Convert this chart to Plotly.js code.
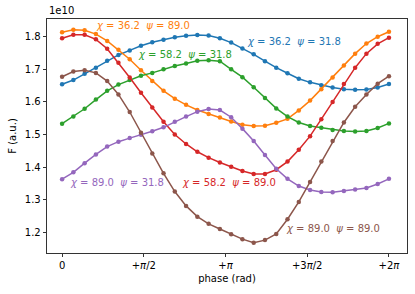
<!DOCTYPE html>
<html>
<head>
<meta charset="utf-8">
<script src="https://cdn.plot.ly/plotly-3.0.1.min.js"></script>
<style>
html,body{margin:0;padding:0;background:#fff;}
#chart{width:415px;height:294px;}
</style>
</head>
<body>
<div id="chart"></div>
<script>
// phase (rad), 30 samples from 0 to 2π
var phase = [0, 0.2167, 0.4333, 0.6500, 0.8666, 1.0833, 1.3000, 1.5166, 1.7333, 1.9500,
  2.1666, 2.3833, 2.5999, 2.8166, 3.0333, 3.2499, 3.4666, 3.6833, 3.8999, 4.1166,
  4.3332, 4.5499, 4.7666, 4.9832, 5.1999, 5.4166, 5.6332, 5.8499, 6.0665, 6.2832];

// F values in units of 1e10
var chi36_psi32 = [1.654, 1.667, 1.686, 1.705, 1.726, 1.744, 1.758, 1.772, 1.783, 1.791,
  1.798, 1.803, 1.805, 1.804, 1.795, 1.782, 1.764, 1.746, 1.725, 1.705,
  1.688, 1.671, 1.660, 1.651, 1.644, 1.639, 1.637, 1.638, 1.644, 1.655];
var chi36_psi89 = [1.814, 1.821, 1.820, 1.808, 1.787, 1.760, 1.731, 1.697, 1.664, 1.634,
  1.610, 1.591, 1.575, 1.563, 1.552, 1.540, 1.530, 1.526, 1.527, 1.536,
  1.548, 1.574, 1.604, 1.639, 1.675, 1.712, 1.748, 1.779, 1.800, 1.815];
var chi58_psi32 = [1.533, 1.555, 1.579, 1.607, 1.634, 1.653, 1.667, 1.680, 1.689, 1.700,
  1.710, 1.718, 1.726, 1.728, 1.725, 1.700, 1.676, 1.645, 1.612, 1.580,
  1.555, 1.537, 1.526, 1.521, 1.514, 1.511, 1.509, 1.511, 1.520, 1.534];
var chi58_psi89 = [1.795, 1.806, 1.806, 1.792, 1.763, 1.720, 1.675, 1.628, 1.583, 1.539,
  1.500, 1.471, 1.447, 1.429, 1.414, 1.401, 1.388, 1.379, 1.379, 1.392,
  1.417, 1.453, 1.495, 1.547, 1.600, 1.655, 1.705, 1.748, 1.778, 1.797];
var chi89_psi32 = [1.363, 1.384, 1.412, 1.439, 1.463, 1.478, 1.489, 1.499, 1.510, 1.522,
  1.539, 1.555, 1.570, 1.578, 1.575, 1.553, 1.518, 1.480, 1.437, 1.395,
  1.364, 1.342, 1.330, 1.324, 1.323, 1.327, 1.331, 1.336, 1.348, 1.364];
var chi89_psi89 = [1.677, 1.693, 1.697, 1.689, 1.664, 1.623, 1.569, 1.505, 1.442, 1.381,
  1.325, 1.281, 1.248, 1.226, 1.210, 1.194, 1.179, 1.168, 1.176, 1.195,
  1.240, 1.293, 1.354, 1.417, 1.480, 1.537, 1.585, 1.623, 1.656, 1.679];

var seriesNames = ['χ=36.2 ψ=31.8', 'χ=36.2 ψ=89.0', 'χ=58.2 ψ=31.8', 'χ=58.2 ψ=89.0', 'χ=89.0 ψ=31.8', 'χ=89.0 ψ=89.0'];
var seriesData = [chi36_psi32, chi36_psi89, chi58_psi32, chi58_psi89, chi89_psi32, chi89_psi89];
var colors = ['#1f77b4', '#ff7f0e', '#2ca02c', '#d62728', '#9467bd', '#8c564b'];

var tickVals = [0, Math.PI/2, Math.PI, 3*Math.PI/2, 2*Math.PI];
var tickText = ['0', '+<i>π</i>/2', '+<i>π</i>', '+3<i>π</i>/2', '+2<i>π</i>'];

var traces = seriesData.map(function(d, k){
  return {x: phase, y: d, type: 'scatter', mode: 'lines+markers', name: seriesNames[k],
    line: {color: colors[k], width: 1.5}, marker: {color: colors[k], size: 4.5}, showlegend: false};
});

var nb = '\u00a0';
function lab(c, p){ return '<i>χ</i>' + nb + '=' + nb + c + nb + nb + '<i>ψ</i>' + nb + '=' + nb + p; }

var annos = [
  {px: 143, py: 25, text: lab('36.2', '89.0'), c: colors[1]},
  {px: 294, py: 41, text: lab('36.2', '31.8'), c: colors[0]},
  {px: 185, py: 54, text: lab('58.2', '31.8'), c: colors[2]},
  {px: 229, py: 182, text: lab('58.2', '89.0'), c: colors[3]},
  {px: 117, py: 182, text: lab('89.0', '31.8'), c: colors[4]},
  {px: 333, py: 228, text: lab('89.0', '89.0'), c: colors[5]}
].map(function(a){
  return {xref: 'paper', yref: 'paper', x: (a.px - 47) / 360, y: (253 - a.py) / 234,
    xanchor: 'center', yanchor: 'middle', showarrow: false, text: a.text,
    font: {family: 'DejaVu Sans', size: 10, color: a.c}};
});
annos.push({xref: 'paper', yref: 'paper', x: 0, y: 1, xanchor: 'left', yanchor: 'bottom', yshift: 1,
  showarrow: false, text: '1e10', font: {family: 'DejaVu Sans', size: 10, color: '#000'}});

var layout = {
  width: 415, height: 294,
  margin: {l: 47, r: 8, t: 19, b: 41, pad: 0},
  paper_bgcolor: '#fff', plot_bgcolor: '#fff',
  font: {family: 'DejaVu Sans', size: 10, color: '#000'},
  xaxis: {range: [-0.29, 6.63], tickvals: tickVals, ticktext: tickText, ticks: 'outside', ticklen: 3.5,
    tickwidth: 0.8, tickcolor: '#000', showgrid: false, zeroline: false, showline: true, linecolor: '#000',
    linewidth: 0.8, mirror: true, title: {text: 'phase (rad)', font: {size: 10}, standoff: 4},
    tickfont: {size: 10}},
  yaxis: {range: [1.1365, 1.8543], tickvals: [1.2, 1.3, 1.4, 1.5, 1.6, 1.7, 1.8],
    ticktext: ['1.2', '1.3', '1.4', '1.5', '1.6', '1.7', '1.8'], ticks: 'outside', ticklen: 3.5,
    tickwidth: 0.8, tickcolor: '#000', showgrid: false, zeroline: false, showline: true, linecolor: '#000',
    linewidth: 0.8, mirror: true, title: {text: 'F (a.u.)', font: {size: 10}, standoff: 6},
    tickfont: {size: 10}},
  annotations: annos
};

Plotly.newPlot('chart', traces, layout, {staticPlot: true, displayModeBar: false});
</script>
</body>
</html>
